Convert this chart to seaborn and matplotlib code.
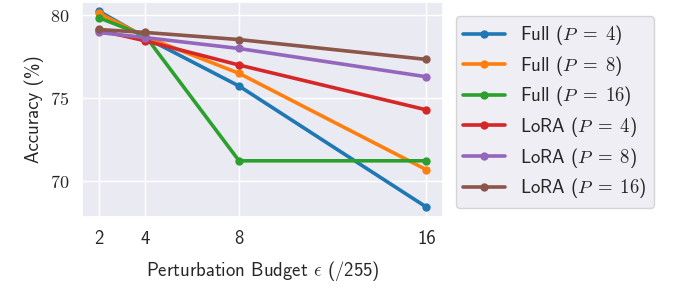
import pandas as pd
import matplotlib
matplotlib.use("Agg")
import matplotlib.pyplot as plt
import seaborn as sns

# Data
budgets = [2, 4, 8, 16]
full_p4 = [80.26, 78.65, 75.72, 68.40]
full_p8 = [80.14, 78.70, 76.49, 70.66]
full_p16 = [79.86, 78.75, 71.20, 71.20]
lora_p4 = [79.10, 78.45, 76.99, 74.28]
lora_p8 = [78.96, 78.65, 77.99, 76.28]
lora_p16 = [79.14, 78.96, 78.53, 77.33]

labels = [r"Full ($P\;=\;4$)", r"Full ($P\;=\;8$)", r"Full ($P\;=\;16$)",
          r"LoRA ($P\;=\;4$)", r"LoRA ($P\;=\;8$)", r"LoRA ($P\;=\;16$)"]
series = [full_p4, full_p8, full_p16, lora_p4, lora_p8, lora_p16]

rows = []
for lab, vals in zip(labels, series):
    for b, v in zip(budgets, vals):
        rows.append({"budget": b, "acc": v, "setting": lab})
df = pd.DataFrame(rows)

sns.set_theme(style="darkgrid")
plt.rcParams['font.family'] = ['cmss10', 'DejaVu Sans']
plt.rcParams['mathtext.fontset'] = 'cm'
plt.rcParams['axes.unicode_minus'] = False

fig = plt.figure(figsize=(6.73, 2.89), dpi=100)
ax = fig.add_axes([0.122, 0.249, 0.536, 0.744])

sns.lineplot(data=df, x="budget", y="acc", hue="setting", hue_order=labels,
             palette="tab10", marker="o", markersize=6, markeredgewidth=0,
             linewidth=2.6, ax=ax)

ax.set_xticks(budgets)
ax.set_xticklabels([str(b) for b in budgets], fontsize=13.5)
ax.set_yticks([70, 75, 80])
ax.set_yticklabels(["$70$", "$75$", "$80$"], fontsize=13)
ax.set_ylim(67.8, 80.8)
ax.set_xlabel(r"Perturbation Budget $\epsilon$ (/255)", fontsize=13.5, labelpad=8)
ax.set_ylabel("Accuracy (%)", fontsize=13.5)

ax.legend(loc="center left", bbox_to_anchor=(1.01, 0.49), fontsize=13.5,
          frameon=True, handlelength=2.2, labelspacing=0.35, borderaxespad=0.5)

fig.savefig("out.png", dpi=100)
